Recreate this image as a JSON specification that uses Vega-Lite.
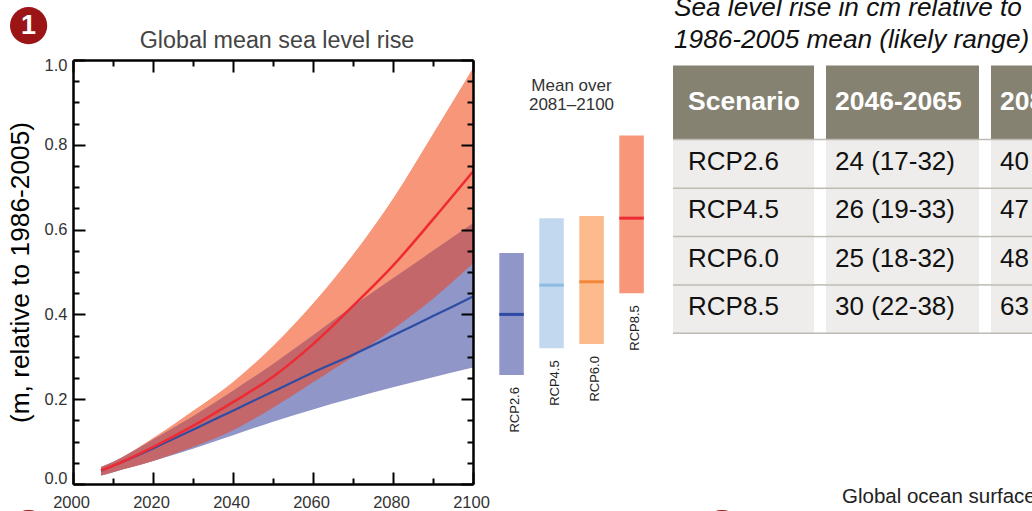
{
"$schema":"https://vega.github.io/schema/vega-lite/v6.json",
"padding":{"left":7,"top":-6,"right":0,"bottom":0},
"config":{"view":{"stroke":null},"font":"Liberation Sans","axis":{"grid":false}},
"datasets":{
"curves":[
{"year":2007,"low26":0.02,"mean26":0.031,"high26":0.04,"low85":0.02,"mean85":0.032,"high85":0.04},
{"year":2010,"low26":0.028,"mean26":0.043,"high26":0.052,"low85":0.028,"mean85":0.043,"high85":0.052},
{"year":2020,"low26":0.054,"mean26":0.084,"high26":0.105,"low85":0.054,"mean85":0.087,"high85":0.108},
{"year":2030,"low26":0.083,"mean26":0.128,"high26":0.16,"low85":0.087,"mean85":0.137,"high85":0.172},
{"year":2040,"low26":0.115,"mean26":0.173,"high26":0.22,"low85":0.127,"mean85":0.193,"high85":0.24},
{"year":2050,"low26":0.147,"mean26":0.218,"high26":0.283,"low85":0.18,"mean85":0.253,"high85":0.325},
{"year":2060,"low26":0.176,"mean26":0.263,"high26":0.351,"low85":0.24,"mean85":0.33,"high85":0.425},
{"year":2070,"low26":0.203,"mean26":0.305,"high26":0.42,"low85":0.3,"mean85":0.42,"high85":0.54},
{"year":2080,"low26":0.228,"mean26":0.35,"high26":0.485,"low85":0.365,"mean85":0.515,"high85":0.672},
{"year":2090,"low26":0.252,"mean26":0.396,"high26":0.55,"low85":0.437,"mean85":0.624,"high85":0.825},
{"year":2100,"low26":0.275,"mean26":0.442,"high26":0.615,"low85":0.52,"mean85":0.737,"high85":0.98}
],
"ranges":[
{"scenario":"RCP2.6","low":0.257,"mean":0.4,"high":0.545},
{"scenario":"RCP4.5","low":0.32,"mean":0.469,"high":0.627},
{"scenario":"RCP6.0","low":0.33,"mean":0.477,"high":0.632},
{"scenario":"RCP8.5","low":0.45,"mean":0.627,"high":0.822}
],
"table":[
{"column":"Scenario","part":"header","row":-1.54,"rowEnd":-0.02,"label":"Scenario"},
{"column":"Scenario","part":"body","row":0,"rowEnd":1,"label":"RCP2.6"},
{"column":"Scenario","part":"body","row":1,"rowEnd":2,"label":"RCP4.5"},
{"column":"Scenario","part":"body","row":2,"rowEnd":3,"label":"RCP6.0"},
{"column":"Scenario","part":"body","row":3,"rowEnd":4,"label":"RCP8.5"},
{"column":"2046-2065","part":"header","row":-1.54,"rowEnd":-0.02,"label":"2046-2065"},
{"column":"2046-2065","part":"body","row":0,"rowEnd":1,"label":"24 (17-32)"},
{"column":"2046-2065","part":"body","row":1,"rowEnd":2,"label":"26 (19-33)"},
{"column":"2046-2065","part":"body","row":2,"rowEnd":3,"label":"25 (18-32)"},
{"column":"2046-2065","part":"body","row":3,"rowEnd":4,"label":"30 (22-38)"},
{"column":"2081-2100","part":"header","row":-1.54,"rowEnd":-0.02,"label":"2081-2100"},
{"column":"2081-2100","part":"body","row":0,"rowEnd":1,"label":"40 (26-55)"},
{"column":"2081-2100","part":"body","row":1,"rowEnd":2,"label":"47 (32-63)"},
{"column":"2081-2100","part":"body","row":2,"rowEnd":3,"label":"48 (33-63)"},
{"column":"2081-2100","part":"body","row":3,"rowEnd":4,"label":"63 (45-82)"}
],
"tableLines":[{"row":-0.01},{"row":1},{"row":2},{"row":3},{"row":4}],
"badges":[{"year":1988.9,"m":1.081,"label":"1"},{"year":1988.9,"m":-0.105,"label":""},{"year":2162.25,"m":-0.105,"label":""}]
},
"bounds":"flush",
"spacing":0,
"hconcat":[
{"width":400,"height":424,
"resolve":{"axis":{"x":"independent","y":"independent"}},
"layer":[
{"data":{"name":"curves"},"mark":{"type":"area","color":"#F79679","interpolate":"monotone"},
"encoding":{
"x":{"field":"year","type":"quantitative","scale":{"domain":[2000,2100],"nice":false},
"axis":{"orient":"bottom","title":null,"values":[2000,2020,2040,2060,2080,2100],"format":"d","tickSize":-12,"tickWidth":2,"tickColor":"#000","domainColor":"#000","domainWidth":2.5,"labelFontSize":16.5,"labelColor":"#333","labelPadding":22,"labelOffset":-2,"labelFlush":false,"zindex":1}},
"y":{"field":"high85","type":"quantitative","scale":{"domain":[0,1],"nice":false},
"axis":{"orient":"left","title":"(m, relative to 1986-2005)","titleFontSize":26.3,"titleFontWeight":"normal","titleColor":"#000","titlePadding":10,"values":[0,0.2,0.4,0.6,0.8,1],"format":".1f","tickSize":-12,"tickWidth":2,"tickColor":"#000","domainColor":"#000","domainWidth":2.5,"labelFontSize":16.5,"labelColor":"#333","labelPadding":18,"labelFlush":true,"labelFlushOffset":2.5,"zindex":1}},
"y2":{"field":"low85"}}},
{"data":{"name":"curves"},"mark":{"type":"area","color":"#9096C8","interpolate":"monotone"},
"encoding":{
"x":{"field":"year","type":"quantitative",
"axis":{"orient":"top","title":null,"values":[2000,2020,2040,2060,2080,2100],"labels":false,"tickSize":-12,"tickWidth":2,"tickColor":"#000","domainColor":"#000","domainWidth":2.5,"zindex":1}},
"y":{"field":"high26","type":"quantitative",
"axis":{"orient":"right","title":null,"values":[0,0.2,0.4,0.6,0.8,1],"labels":false,"tickSize":-12,"tickWidth":2,"tickColor":"#000","domainColor":"#000","domainWidth":2.5,"zindex":1}},
"y2":{"field":"low26"}}},
{"data":{"name":"curves"},"mark":{"type":"area","color":"#F79679","interpolate":"monotone"},
"encoding":{
"x":{"field":"year","type":"quantitative",
"axis":{"orient":"bottom","title":null,"values":[2010,2030,2050,2070,2090],"labels":false,"tickSize":-6,"tickWidth":2,"tickColor":"#000","domain":false,"zindex":1}},
"y":{"field":"high85","type":"quantitative",
"axis":{"orient":"left","title":null,"values":[0.05,0.1,0.15,0.25,0.3,0.35,0.45,0.5,0.55,0.65,0.7,0.75,0.85,0.9,0.95],"labels":false,"tickSize":-6,"tickWidth":2,"tickColor":"#000","domain":false,"zindex":1}},
"y2":{"field":"high26"}}},
{"data":{"name":"curves"},"mark":{"type":"area","color":"#C3676B","interpolate":"monotone"},
"encoding":{
"x":{"field":"year","type":"quantitative",
"axis":{"orient":"top","title":null,"values":[2010,2030,2050,2070,2090],"labels":false,"tickSize":-6,"tickWidth":2,"tickColor":"#000","domain":false,"zindex":1}},
"y":{"field":"high26","type":"quantitative",
"axis":{"orient":"right","title":null,"values":[0.05,0.1,0.15,0.25,0.3,0.35,0.45,0.5,0.55,0.65,0.7,0.75,0.85,0.9,0.95],"labels":false,"tickSize":-6,"tickWidth":2,"tickColor":"#000","domain":false,"zindex":1}},
"y2":{"field":"low85"}}},
{"data":{"name":"curves"},"mark":{"type":"line","color":"#2F4DA3","strokeWidth":2.2,"interpolate":"monotone"},
"encoding":{"x":{"field":"year","type":"quantitative","axis":null},"y":{"field":"mean26","type":"quantitative","axis":null}}},
{"data":{"name":"curves"},"mark":{"type":"line","color":"#EE2A33","strokeWidth":2.5,"interpolate":"monotone"},
"encoding":{"x":{"field":"year","type":"quantitative","axis":null},"y":{"field":"mean85","type":"quantitative","axis":null}}},
{"data":{"values":[{"m":1.044,"label":"Global mean sea level rise"}]},"mark":{"type":"text","fontSize":23.3,"color":"#444444","baseline":"middle","dx":4},
"encoding":{"y":{"field":"m","type":"quantitative","axis":null},"text":{"field":"label"}}},
{"data":{"name":"badges"},"mark":{"type":"point","filled":true,"opacity":1,"color":"#9B1516","size":1385},
"encoding":{"x":{"field":"year","type":"quantitative","axis":null},"y":{"field":"m","type":"quantitative","axis":null}}},
{"data":{"name":"badges"},"mark":{"type":"text","color":"#FFFFFF","fontWeight":"bold","fontSize":27,"baseline":"middle"},
"encoding":{"x":{"field":"year","type":"quantitative","axis":null},"y":{"field":"m","type":"quantitative","axis":null},"text":{"field":"label"}}}
]},
{"width":200,"height":424,
"resolve":{"scale":{"color":"independent"}},
"layer":[
{"data":{"name":"ranges"},"mark":{"type":"rect"},
"encoding":{
"x":{"field":"scenario","type":"nominal","scale":{"type":"band","paddingInner":0.3875,"paddingOuter":0.69375,"align":0.474},"axis":null},
"y":{"field":"low","type":"quantitative","scale":{"domain":[0,1],"nice":false},"axis":null},
"y2":{"field":"high"},
"color":{"field":"scenario","type":"nominal","legend":null,"scale":{"domain":["RCP2.6","RCP4.5","RCP6.0","RCP8.5"],"range":["#9096C8","#C2D8EF","#FBBB8C","#F79679"]}}}},
{"data":{"name":"ranges"},"mark":{"type":"tick","size":24.5,"thickness":3,"opacity":1},
"encoding":{
"x":{"field":"scenario","type":"nominal","axis":null},
"y":{"field":"mean","type":"quantitative","axis":null},
"color":{"field":"scenario","type":"nominal","legend":null,"scale":{"domain":["RCP2.6","RCP4.5","RCP6.0","RCP8.5"],"range":["#2B4BA5","#8DBCE3","#F5873A","#EE2A33"]}}}},
{"data":{"name":"ranges"},"mark":{"type":"text","angle":270,"align":"right","baseline":"middle","fontSize":13,"color":"#222","dx":-12,"dy":3},
"encoding":{
"x":{"field":"scenario","type":"nominal","axis":null},
"y":{"field":"low","type":"quantitative","axis":null},
"text":{"field":"scenario"}}},
{"data":{"values":[{"m":0.939,"label":"Mean over"},{"m":0.894,"label":"2081–2100"}]},"mark":{"type":"text","fontSize":17,"color":"#333","baseline":"middle","dx":-1.5},
"encoding":{"y":{"field":"m","type":"quantitative","axis":null},"text":{"field":"label"}}}
]},
{"width":141,"height":424,
"layer":[
{"data":{"name":"table"},"transform":[{"filter":"datum.column==='Scenario'"}],"mark":{"type":"rect"},
"encoding":{"y":{"field":"row","type":"quantitative","scale":{"domain":[-1.656,7.122],"nice":false,"zero":false,"reverse":true},"axis":null},"y2":{"field":"rowEnd"},
"color":{"field":"part","type":"nominal","legend":null,"scale":{"domain":["header","body"],"range":["#868272","#EEEDEB"]}}}},
{"data":{"name":"tableLines"},"mark":{"type":"rule","color":"#BDBCB4","strokeWidth":1.5},"encoding":{"y":{"field":"row","type":"quantitative","axis":null}}},
{"data":{"name":"table"},"transform":[{"filter":"datum.column==='Scenario' && datum.part==='header'"}],"mark":{"type":"text","align":"left","baseline":"middle","fontSize":26.5,"fontWeight":"bold","color":"#FFFFFF","dx":-55.5,"dy":36},
"encoding":{"y":{"field":"row","type":"quantitative","axis":null},"text":{"field":"label"}}},
{"data":{"name":"table"},"transform":[{"filter":"datum.column==='Scenario' && datum.part==='body'"}],"mark":{"type":"text","align":"left","baseline":"middle","fontSize":26,"color":"#111","dx":-55.5,"dy":22},
"encoding":{"y":{"field":"row","type":"quantitative","axis":null},"text":{"field":"label"}}},
{"data":{"values":[{"row":-2.733,"label":"Sea level rise in cm relative to"},{"row":-2.07,"label":"1986-2005 mean (likely range)"}]},"mark":{"type":"text","align":"left","baseline":"middle","fontSize":26.2,"fontStyle":"italic","color":"#111","dx":-69.5},
"encoding":{"y":{"field":"row","type":"quantitative","axis":null},"text":{"field":"label"}}}
]},
{"width":12,"height":424,
"layer":[
{"data":{"name":"tableLines"},"mark":{"type":"rule","color":"#BDBCB4","strokeWidth":1.5},"encoding":{"y":{"field":"row","type":"quantitative","scale":{"domain":[-1.656,7.122],"nice":false,"zero":false,"reverse":true},"axis":null}}}
]},
{"width":153,"height":424,
"layer":[
{"data":{"name":"table"},"transform":[{"filter":"datum.column==='2046-2065'"}],"mark":{"type":"rect"},
"encoding":{"y":{"field":"row","type":"quantitative","scale":{"domain":[-1.656,7.122],"nice":false,"zero":false,"reverse":true},"axis":null},"y2":{"field":"rowEnd"},
"color":{"field":"part","type":"nominal","legend":null,"scale":{"domain":["header","body"],"range":["#868272","#EEEDEB"]}}}},
{"data":{"name":"tableLines"},"mark":{"type":"rule","color":"#BDBCB4","strokeWidth":1.5},"encoding":{"y":{"field":"row","type":"quantitative","axis":null}}},
{"data":{"name":"table"},"transform":[{"filter":"datum.column==='2046-2065' && datum.part==='header'"}],"mark":{"type":"text","align":"left","baseline":"middle","fontSize":26.5,"fontWeight":"bold","color":"#FFFFFF","dx":-67.5,"dy":36},
"encoding":{"y":{"field":"row","type":"quantitative","axis":null},"text":{"field":"label"}}},
{"data":{"name":"table"},"transform":[{"filter":"datum.column==='2046-2065' && datum.part==='body'"}],"mark":{"type":"text","align":"left","baseline":"middle","fontSize":26,"color":"#111","dx":-67.5,"dy":22},
"encoding":{"y":{"field":"row","type":"quantitative","axis":null},"text":{"field":"label"}}},
{"data":{"values":[{"row":7.39,"label":"Global ocean surface"}]},"mark":{"type":"text","align":"left","baseline":"middle","fontSize":20.5,"color":"#222","dx":-60.5},
"encoding":{"y":{"field":"row","type":"quantitative","axis":null},"text":{"field":"label"}}}
]},
{"width":12,"height":424,
"layer":[
{"data":{"name":"tableLines"},"mark":{"type":"rule","color":"#BDBCB4","strokeWidth":1.5},"encoding":{"y":{"field":"row","type":"quantitative","scale":{"domain":[-1.656,7.122],"nice":false,"zero":false,"reverse":true},"axis":null}}}
]},
{"width":41,"height":424,
"layer":[
{"data":{"name":"table"},"transform":[{"filter":"datum.column==='2081-2100'"}],"mark":{"type":"rect"},
"encoding":{"y":{"field":"row","type":"quantitative","scale":{"domain":[-1.656,7.122],"nice":false,"zero":false,"reverse":true},"axis":null},"y2":{"field":"rowEnd"},
"color":{"field":"part","type":"nominal","legend":null,"scale":{"domain":["header","body"],"range":["#868272","#EEEDEB"]}}}},
{"data":{"name":"tableLines"},"mark":{"type":"rule","color":"#BDBCB4","strokeWidth":1.5},"encoding":{"y":{"field":"row","type":"quantitative","axis":null}}},
{"data":{"name":"table"},"transform":[{"filter":"datum.column==='2081-2100' && datum.part==='header'"}],"mark":{"type":"text","align":"left","baseline":"middle","fontSize":26.5,"fontWeight":"bold","color":"#FFFFFF","dx":-11.5,"dy":36,"clip":true},
"encoding":{"y":{"field":"row","type":"quantitative","axis":null},"text":{"field":"label"}}},
{"data":{"name":"table"},"transform":[{"filter":"datum.column==='2081-2100' && datum.part==='body'"}],"mark":{"type":"text","align":"left","baseline":"middle","fontSize":26,"color":"#111","dx":-11.5,"dy":22,"clip":true},
"encoding":{"y":{"field":"row","type":"quantitative","axis":null},"text":{"field":"label"}}}
]}
]
}
